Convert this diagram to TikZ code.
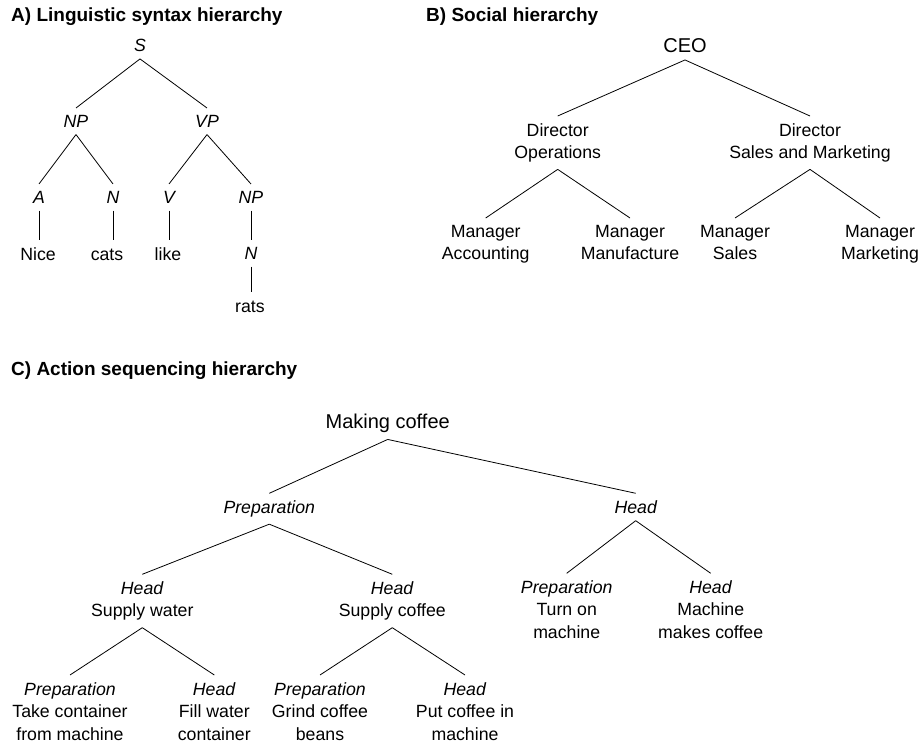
\documentclass[tikz,border=0pt]{standalone}
\usepackage{fontspec}
\setmainfont{Liberation Sans}
\usepackage{tikz}

\begin{document}
\begin{tikzpicture}[x=1bp,y=1bp,
  lbl/.style={anchor=north,align=center,inner xsep=2bp,inner ysep=7bp,
    font=\fontsize{17.7bp}{22.5bp}\selectfont},
  word/.style={lbl,text height=13bp},
  cat/.style={lbl,font=\fontsize{17.7bp}{22.5bp}\selectfont\itshape},
  root/.style={lbl,font=\fontsize{20bp}{24bp}\selectfont},
  heading/.style={anchor=base west,inner sep=0pt,
    font=\fontsize{19bp}{23bp}\selectfont\bfseries},
  edge/.style={line width=0.8bp}]
\useasboundingbox (0,0) rectangle (920,746);

% A) syntax tree
\node[heading] (titleA) at (11,724) {A) Linguistic syntax hierarchy};
\node[cat] (s) at (140,714) {S};
\node[cat] (np) at (76,638) {NP};
\node[cat] (vp) at (207,638) {VP};
\node[cat] (a) at (39,562) {A};
\node[cat] (n) at (113,562) {N};
\node[cat] (v) at (169,562) {V};
\node[cat] (np2) at (251,562) {NP};
\node[word] (nice) at (38,506) {Nice};
\node[word] (cats) at (107,506) {cats};
\node[word] (like) at (168,506) {like};
\node[cat] (n2) at (251,506) {N};
\node[word] (rats) at (250,454) {rats};

\draw[edge] (s.south) -- (np.north);
\draw[edge] (s.south) -- (vp.north);
\draw[edge] (np.south) -- (a.north);
\draw[edge] (np.south) -- (n.north);
\draw[edge] (vp.south) -- (v.north);
\draw[edge] (vp.south) -- (np2.north);
\draw[edge] (a.south) -- (a.south |- nice.north);
\draw[edge] (n.south) -- (n.south |- cats.north);
\draw[edge] (v.south) -- (v.south |- like.north);
\draw[edge] (np2.south) -- (np2.south |- n2.north);
\draw[edge] (n2.south) -- (n2.south |- rats.north);

% B) social tree
\node[heading] (titleB) at (426,724) {B) Social hierarchy};
\node[root] (ceo) at (685,714.6) {CEO};
\node[lbl] (dirops) at (557.7,630) {Director\\Operations};
\node[lbl] (dirsales) at (810,630) {Director\\Sales and Marketing};
\node[lbl] (mgracc) at (485.7,528) {Manager\\Accounting};
\node[lbl] (mgrman) at (630,528) {Manager\\Manufacture};
\node[lbl] (mgrsales) at (735,528) {Manager\\Sales};
\node[lbl] (mgrmkt) at (880,528) {Manager\\Marketing};

\draw[edge] (ceo.south) -- (dirops.north);
\draw[edge] (ceo.south) -- (dirsales.north);
\draw[edge] (dirops.south) -- (mgracc.north);
\draw[edge] (dirops.south) -- (mgrman.north);
\draw[edge] (dirsales.south) -- (mgrsales.north);
\draw[edge] (dirsales.south) -- (mgrmkt.north);

% C) action tree
\node[heading] (titleC) at (11,370) {C) Action sequencing hierarchy};
\node[root] (coffee) at (387.7,339.6) {Making coffee};
\node[cat] (prep) at (269.3,252.7) {Preparation};
\node[cat] (headR) at (635.7,252.7) {Head};
\node[lbl] (water) at (142.3,171.7) {\textit{Head}\\Supply water};
\node[lbl] (supcof) at (392.3,171.7) {\textit{Head}\\Supply coffee};
\node[lbl] (take) at (70,71) {\textit{Preparation}\\Take container\\from machine};
\node[lbl] (fill) at (214.3,71) {\textit{Head}\\Fill water\\container};
\node[lbl] (grind) at (320,71) {\textit{Preparation}\\Grind coffee\\beans};
\node[lbl] (put) at (465,71) {\textit{Head}\\Put coffee in\\machine};
\node[lbl] (turn) at (566.7,172.7) {\textit{Preparation}\\Turn on\\machine};
\node[lbl] (makes) at (710.7,172.7) {\textit{Head}\\Machine\\makes coffee};

\draw[edge] (coffee.south) -- (prep.north);
\draw[edge] (coffee.south) -- (headR.north);
\draw[edge] (prep.south) -- (water.north);
\draw[edge] (prep.south) -- (supcof.north);
\draw[edge] (water.south) -- (take.north);
\draw[edge] (water.south) -- (fill.north);
\draw[edge] (supcof.south) -- (grind.north);
\draw[edge] (supcof.south) -- (put.north);
\draw[edge] (headR.south) -- (turn.north);
\draw[edge] (headR.south) -- (makes.north);
\end{tikzpicture}
\end{document}
